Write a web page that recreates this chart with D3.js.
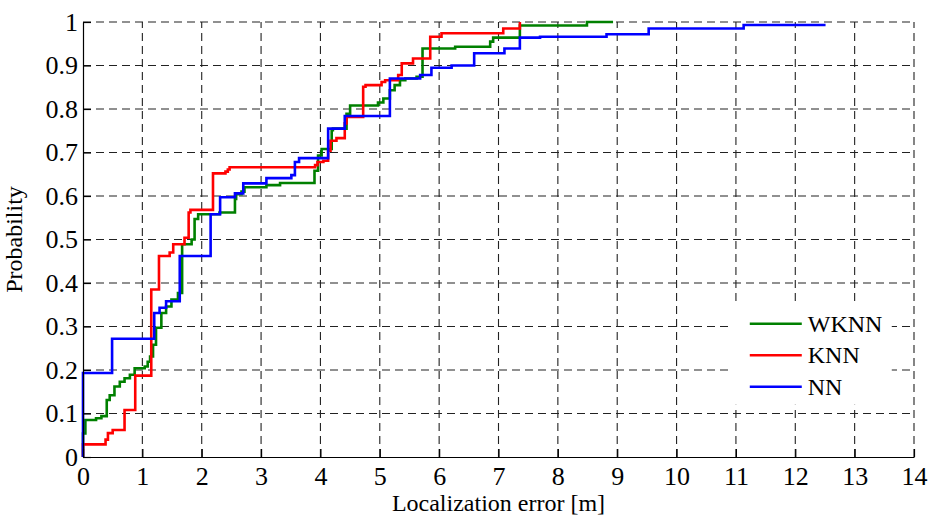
<!DOCTYPE html>
<html>
<head>
<meta charset="utf-8">
<script src="https://cdn.jsdelivr.net/npm/d3@7"></script>
<style>
  body { margin: 0; background: #fff; }
  svg { display: block; font-family: "Liberation Serif", "Times New Roman", serif; }
  .axis text { font-family: "Liberation Serif", "Times New Roman", serif; font-size: 26px; fill: #000; }
  .axis path, .axis line { stroke: #000; stroke-width: 1.2; }
</style>
</head>
<body>
<svg id="chart"></svg>
<script>
// CDF of localization error (step positions / levels)
const seriesNames = ["WKNN", "KNN", "NN"];
const seriesColors = ["#008000", "#ff0000", "#0000ff"];

const wknnX = [0, 0, 0.04, 0.22, 0.31, 0.40, 0.45, 0.53, 0.62, 0.70, 0.79, 0.87, 1.04, 1.09, 1.13, 1.18, 1.23, 1.32, 1.40, 1.49, 1.60, 1.67, 1.83, 1.88, 1.94, 2.30, 2.56, 2.58, 2.67, 2.72, 3.09, 3.32, 3.90, 3.96, 4.02, 4.19, 4.21, 4.44, 4.50, 4.97, 5.06, 5.17, 5.25, 5.34, 5.43, 5.62, 5.72, 6.27, 6.86, 6.91, 7.36, 8.49, 8.93];
const wknnY = [0, 0.054, 0.085, 0.089, 0.094, 0.131, 0.142, 0.162, 0.173, 0.181, 0.189, 0.204, 0.208, 0.219, 0.231, 0.258, 0.297, 0.331, 0.346, 0.362, 0.377, 0.489, 0.50, 0.547, 0.558, 0.562, 0.593, 0.604, 0.61, 0.620, 0.625, 0.630, 0.658, 0.693, 0.708, 0.751, 0.755, 0.789, 0.808, 0.815, 0.824, 0.843, 0.855, 0.866, 0.870, 0.874, 0.939, 0.943, 0.955, 0.964, 0.992, 1.0, 1.0];

const knnX = [0, 0, 0.38, 0.42, 0.50, 0.70, 0.88, 1.15, 1.28, 1.46, 1.52, 1.71, 1.78, 1.81, 2.19, 2.40, 2.44, 2.47, 3.91, 3.95, 4.05, 4.13, 4.17, 4.27, 4.41, 4.44, 4.72, 4.76, 5.03, 5.09, 5.31, 5.37, 5.56, 5.85, 6.04, 7.08, 7.36];
const knnY = [0, 0.029, 0.040, 0.055, 0.062, 0.108, 0.187, 0.385, 0.462, 0.47, 0.489, 0.504, 0.562, 0.568, 0.652, 0.656, 0.661, 0.666, 0.671, 0.678, 0.681, 0.704, 0.727, 0.733, 0.767, 0.782, 0.851, 0.855, 0.862, 0.866, 0.878, 0.905, 0.916, 0.966, 0.974, 0.985, 1.0];

const nnX = [0, 0, 0.49, 1.20, 1.29, 1.40, 1.63, 2.15, 2.31, 2.56, 2.70, 3.09, 3.51, 3.57, 3.64, 4.13, 4.41, 5.17, 5.68, 5.87, 6.21, 6.59, 7.10, 7.36, 7.70, 8.82, 9.53, 11.13, 12.51];
const nnY = [0, 0.193, 0.272, 0.331, 0.343, 0.358, 0.462, 0.558, 0.597, 0.606, 0.629, 0.641, 0.648, 0.678, 0.687, 0.755, 0.784, 0.870, 0.878, 0.895, 0.90, 0.928, 0.939, 0.964, 0.966, 0.972, 0.985, 0.993, 0.993];

const xTicks = [0, 1, 2, 3, 4, 5, 6, 7, 8, 9, 10, 11, 12, 13, 14];
const yTicks = [0, 0.1, 0.2, 0.3, 0.4, 0.5, 0.6, 0.7, 0.8, 0.9, 1];

const owidth = 930, oheight = 516;
var margin = { top: 22, right: 16, bottom: 59, left: 83 },
    width = owidth - margin.left - margin.right,
    height = oheight - margin.top - margin.bottom;

const serif = "'Liberation Serif', 'Times New Roman', serif";

const root = d3.select("#chart")
    .attr("width", owidth)
    .attr("height", oheight);

const svg = root.append("g")
    .attr("transform", "translate(" + margin.left + "," + margin.top + ")");

var xScale = d3.scaleLinear().domain([0, 14]).range([0, width]);
var yScale = d3.scaleLinear().domain([0, 1]).range([height, 0]);

// dashed grid (top and right edges are grid lines only)
const grid = svg.append("g").attr("class", "grid")
    .attr("stroke", "#222").attr("stroke-width", 1.1).attr("stroke-dasharray", "8,5");
grid.selectAll("line.v").data(xTicks.filter(d => d > 0)).enter().append("line")
    .attr("class", "v")
    .attr("x1", d => xScale(d)).attr("x2", d => xScale(d))
    .attr("y1", height).attr("y2", 0);
grid.selectAll("line.h").data(yTicks.filter(d => d > 0)).enter().append("line")
    .attr("class", "h")
    .attr("x1", 0).attr("x2", width)
    .attr("y1", d => yScale(d)).attr("y2", d => yScale(d));

// curves
const series = [
    { name: seriesNames[0], color: seriesColors[0], xs: wknnX, ys: wknnY },
    { name: seriesNames[1], color: seriesColors[1], xs: knnX, ys: knnY },
    { name: seriesNames[2], color: seriesColors[2], xs: nnX, ys: nnY }
];

const line = d3.line()
    .x(d => xScale(d[0]))
    .y(d => yScale(d[1]))
    .curve(d3.curveStepAfter);

svg.append("g").selectAll("path")
    .data(series)
    .enter().append("path")
    .attr("fill", "none")
    .attr("stroke", d => d.color)
    .attr("stroke-width", 2.6)
    .attr("d", d => line(d.xs.map((x, i) => [x, d.ys[i]])));

// axes
svg.append("g")
    .attr("class", "axis")
    .attr("transform", "translate(0," + height + ")")
    .call(d3.axisBottom(xScale).tickValues(xTicks).tickSize(-8).tickSizeOuter(0).tickPadding(10)
        .tickFormat(d3.format("~g")))
    .attr("font-family", serif)
    .attr("font-size", 26);

svg.append("g")
    .attr("class", "axis")
    .call(d3.axisLeft(yScale).tickValues(yTicks).tickSize(-8).tickSizeOuter(0).tickPadding(5)
        .tickFormat(d3.format("~g")))
    .attr("font-family", serif)
    .attr("font-size", 26);

// axis labels
svg.append("text")
    .attr("x", width / 2)
    .attr("y", height + 54)
    .attr("text-anchor", "middle")
    .attr("font-family", serif)
    .style("font-size", "24px")
    .text("Localization error [m]");

svg.append("text")
    .attr("transform", "translate(" + (-61) + "," + (height / 2) + ") rotate(-90)")
    .attr("text-anchor", "middle")
    .attr("font-family", serif)
    .style("font-size", "24px")
    .text("Probability");

// legend
const legend = svg.append("g")
    .attr("transform", "translate(" + (xScale(10.93)) + "," + (yScale(0.35)) + ")");

legend.append("rect")
    .attr("x", 0).attr("y", 0)
    .attr("width", 160).attr("height", 100)
    .attr("fill", "#fff");

const rows = legend.selectAll("g.row").data(series).enter().append("g")
    .attr("class", "row")
    .attr("transform", (d, i) => "translate(0," + (19 + i * 31.5) + ")");

rows.append("line")
    .attr("x1", 18).attr("x2", 70)
    .attr("stroke", d => d.color).attr("stroke-width", 2.6);

rows.append("text")
    .attr("x", 76).attr("y", 8)
    .attr("font-family", serif)
    .style("font-size", "24px")
    .text(d => d.name);
</script>
</body>
</html>
